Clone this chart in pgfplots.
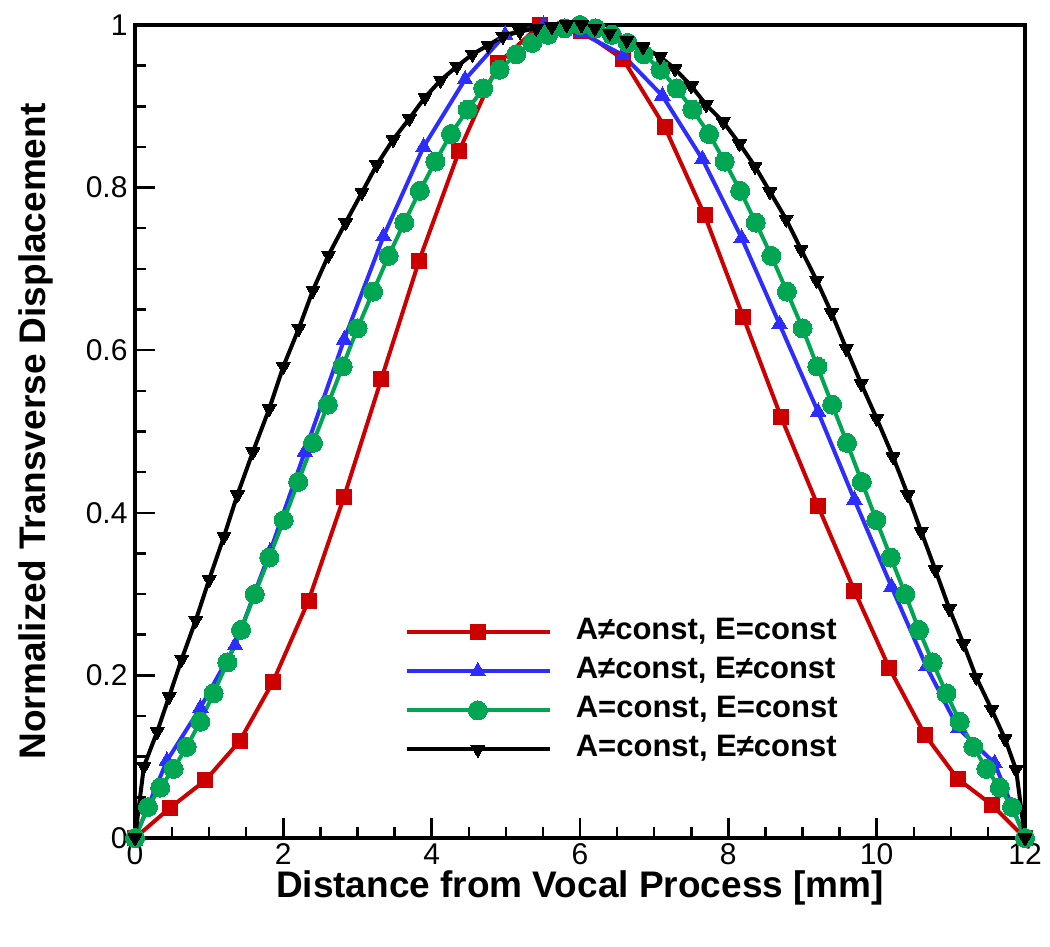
\documentclass[border=0pt]{standalone}
\usepackage{pgfplots}
\pgfplotsset{compat=1.18}
\usepackage{fontspec}
\setmainfont{Liberation Sans}
\definecolor{cred}{RGB}{204,0,0}
\definecolor{cblue}{RGB}{45,45,255}
\definecolor{cgreen}{RGB}{0,166,81}
\begin{document}
\begin{tikzpicture}
\useasboundingbox (-135pt,-109pt) rectangle (915pt,838pt);
\begin{axis}[
  at={(0pt,0pt)}, anchor=south west,
  width=890pt, height=813pt, scale only axis,
  xmin=0, xmax=12, ymin=0, ymax=1,
  xtick={0,2,...,12}, ytick={0,0.2,...,1},
  yticklabels={0,0.2,0.4,0.6,0.8,1},
  minor x tick num=3, minor y tick num=3,
  tick align=inside, xtick pos=bottom, ytick pos=left,
  major tick length=20pt, minor tick length=11pt,
  every tick/.style={black, line width=2.5pt},
  axis line style={line width=3.8pt},
  /pgf/number format/assume math mode=true,
  ticklabel style={font=\fontsize{30}{30}\selectfont},
  xticklabel style={yshift=-2pt},
  yticklabel style={xshift=-4pt},
  xlabel={\textbf{Distance from Vocal Process [mm]}},
  ylabel={\textbf{Normalized Transverse Displacement}},
  label style={font=\fontsize{37}{37}\selectfont},
  xlabel style={at={(axis description cs:0.5,0)}, anchor=center, yshift=-50pt},
  ylabel style={at={(axis description cs:0,0.5)}, anchor=center, yshift=99pt},
  legend cell align=left,
  legend style={at={(rel axis cs:0.303,0.271)}, anchor=north west, draw=none, fill=none,
    inner sep=0pt, row sep=10pt,
    font=\bfseries\fontsize{31}{31}\selectfont,
    nodes={inner sep=0pt, text height=22pt, text depth=7pt},
    /tikz/every odd column/.append style={column sep=24pt}},
  legend image code/.code={\draw[#1, mark repeat=2, mark phase=2] plot coordinates {(0pt,0pt) (71pt,0pt) (143pt,0pt)};},
]
\addplot[cred, line width=4pt, mark=square*, mark size=7.5pt, mark options={solid, fill=cred, draw=cred, line width=0pt}] coordinates {
(0,0) (0.47,0.037) (0.95,0.071) (1.41,0.119) (1.86,0.192) (2.34,0.292) (2.82,0.420) (3.32,0.564) (3.83,0.710) (4.37,0.845) (4.90,0.953) (5.46,1.000) (6.02,0.993) (6.58,0.958) (7.14,0.875) (7.68,0.766) (8.20,0.641) (8.71,0.518) (9.21,0.408) (9.70,0.304) (10.17,0.209) (10.65,0.127) (11.09,0.073) (11.55,0.041) (12,0)
};
\addlegendentry{A≠const, E=const}
\addplot[cblue, line width=4pt, mark=triangle*, mark size=9pt, mark options={solid, fill=cblue, draw=cblue, line width=0pt}] coordinates {
(0,0) (0.43,0.095) (0.88,0.160) (1.35,0.237) (1.82,0.352) (2.29,0.475) (2.82,0.613) (3.35,0.740) (3.89,0.850) (4.45,0.933) (4.99,0.988) (5.51,1.000) (6.02,0.990) (6.58,0.963) (7.11,0.913) (7.65,0.835) (8.18,0.738) (8.69,0.632) (9.21,0.524) (9.70,0.416) (10.20,0.309) (10.67,0.211) (11.10,0.135) (11.59,0.092) (12,0)
};
\addlegendentry{A≠const, E≠const}
\addplot[cgreen, line width=4pt, mark=*, mark size=9.5pt, mark options={solid, fill=cgreen, draw=cgreen, line width=0pt}] coordinates {
(0,0) (0.175,0.038) (0.34,0.062) (0.52,0.085) (0.695,0.112) (0.88,0.143) (1.06,0.178) (1.245,0.216) (1.43,0.256) (1.615,0.300) (1.81,0.345) (2.005,0.391) (2.2,0.438) (2.4,0.486) (2.6,0.533) (2.8,0.580) (3.0,0.627) (3.21,0.672) (3.42,0.716) (3.63,0.757) (3.84,0.796) (4.05,0.832) (4.26,0.866) (4.485,0.896) (4.695,0.922) (4.915,0.945) (5.14,0.964) (5.355,0.978) (5.57,0.988) (5.79,0.996) (6.0,1.0)
(6.21,0.996) (6.43,0.988) (6.645,0.978) (6.86,0.964) (7.085,0.945) (7.305,0.922) (7.515,0.896) (7.74,0.866) (7.95,0.832) (8.16,0.796) (8.37,0.757) (8.58,0.716) (8.79,0.672) (9.0,0.627) (9.2,0.580) (9.4,0.533) (9.6,0.486) (9.8,0.438) (9.995,0.391) (10.19,0.345) (10.385,0.300) (10.57,0.256) (10.755,0.216) (10.94,0.178) (11.12,0.143) (11.305,0.112) (11.48,0.085) (11.66,0.062) (11.825,0.038) (12,0)
};
\addlegendentry{A=const, E=const}
\addplot[black, line width=4pt, mark=triangle*, mark size=8pt, mark options={solid, fill=black, draw=black, line width=0pt, rotate=180}] coordinates {
(0,0) (0.12,0.088) (0.30,0.131) (0.46,0.174) (0.63,0.220) (0.82,0.268) (1.00,0.318) (1.20,0.371) (1.38,0.422) (1.59,0.475) (1.81,0.528) (2.00,0.580) (2.21,0.627) (2.40,0.674) (2.61,0.717) (2.84,0.757) (3.06,0.794) (3.26,0.828) (3.48,0.859) (3.70,0.885) (3.91,0.911) (4.12,0.932) (4.34,0.949) (4.55,0.964) (4.76,0.975) (4.96,0.986) (5.19,0.992) (5.41,0.996) (5.62,0.998) (5.82,1.000) (6.02,1.000) (6.2,0.996) (6.4,0.990) (6.63,0.981) (6.85,0.973) (7.08,0.961) (7.28,0.946) (7.50,0.925) (7.70,0.902) (7.93,0.881) (8.15,0.854) (8.36,0.826) (8.56,0.795) (8.78,0.761) (8.98,0.724) (9.19,0.686) (9.39,0.646) (9.59,0.602) (9.79,0.559) (10.00,0.516) (10.22,0.469) (10.42,0.422) (10.60,0.377) (10.79,0.330) (10.98,0.282) (11.17,0.239) (11.34,0.198) (11.55,0.158) (11.73,0.122) (11.88,0.084) (12,0)
};
\addlegendentry{A=const, E≠const}
\end{axis}
\end{tikzpicture}
\end{document}
